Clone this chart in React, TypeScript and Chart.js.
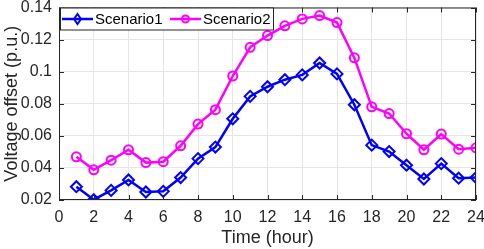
import React, { useEffect, useRef } from "react";
import { Chart, registerables } from "chart.js";
Chart.register(...registerables);

const hours = [1,2,3,4,5,6,7,8,9,10,11,12,13,14,15,16,17,18,19,20,21,22,23,24];
const scenario1 = [0.0283,0.0202,0.026,0.0325,0.025,0.0254,0.034,0.0458,0.053,0.0706,0.0846,0.0906,0.095,0.098,0.1054,0.0986,0.0794,0.0542,0.0502,0.0417,0.0331,0.0427,0.0336,0.034];
const scenario2 = [0.0469,0.0388,0.0448,0.0513,0.0433,0.0439,0.0538,0.0673,0.0763,0.0973,0.1152,0.1225,0.1286,0.1329,0.135,0.1306,0.1086,0.0781,0.0739,0.0613,0.0513,0.0611,0.0517,0.0525];
const seriesNames = ["Scenario1", "Scenario2"];
const xTitle = "Time (hour)";
const yTitle = "Voltage offset (p.u.)";

const FONT = "'Liberation Sans', Arial, sans-serif";
const AXIS = "#262626";

const boxPlugin = {
  id: "matlabBox",
  afterDraw(chart: any) {
    const { ctx, chartArea: a, scales } = chart;
    ctx.save();
    ctx.strokeStyle = AXIS;
    ctx.lineWidth = 1;
    ctx.strokeRect(a.left + 0.5, a.top + 0.5, a.right - a.left - 1, a.bottom - a.top - 1);
    const tl = 5;
    ctx.beginPath();
    scales.x.ticks.forEach((t: any) => {
      const px = Math.round(scales.x.getPixelForValue(t.value)) + 0.5;
      ctx.moveTo(px, a.bottom); ctx.lineTo(px, a.bottom - tl);
      ctx.moveTo(px, a.top); ctx.lineTo(px, a.top + tl);
    });
    scales.y.ticks.forEach((t: any) => {
      const py = Math.round(scales.y.getPixelForValue(t.value)) + 0.5;
      ctx.moveTo(a.left, py); ctx.lineTo(a.left + tl, py);
      ctx.moveTo(a.right, py); ctx.lineTo(a.right - tl, py);
    });
    ctx.stroke();

    // legend
    const lx = a.left + 1.5, ly = a.top + 0.5, lw = 213, lh = 22;
    ctx.fillStyle = "#ffffff";
    ctx.fillRect(lx, ly, lw, lh);
    ctx.strokeStyle = AXIS;
    ctx.strokeRect(lx, ly, lw, lh);
    const cy = ly + lh / 2;
    const entries = [
      { x0: a.left + 3, name: seriesNames[0], color: "#0000ff", marker: "diamond" },
      { x0: a.left + 111, name: seriesNames[1], color: "#ff00ff", marker: "circle" },
    ];
    entries.forEach((e) => {
      ctx.strokeStyle = e.color;
      ctx.lineWidth = 2.5;
      ctx.beginPath();
      ctx.moveTo(e.x0, cy); ctx.lineTo(e.x0 + 31, cy);
      ctx.stroke();
      const mx = e.x0 + 15.5;
      ctx.lineWidth = 2;
      ctx.beginPath();
      if (e.marker === "diamond") {
        ctx.moveTo(mx, cy - 5); ctx.lineTo(mx + 3.5, cy); ctx.lineTo(mx, cy + 5); ctx.lineTo(mx - 3.5, cy); ctx.closePath();
      } else {
        ctx.arc(mx, cy, 3.5, 0, Math.PI * 2);
      }
      ctx.stroke();
      ctx.fillStyle = "#000000";
      ctx.font = `15px ${FONT}`;
      ctx.textBaseline = "middle";
      ctx.textAlign = "left";
      ctx.fillText(e.name, e.x0 + 33, cy + 1);
    });
    ctx.restore();
  },
};

export default function App() {
  const ref = useRef<HTMLCanvasElement>(null);
  useEffect(() => {
    document.body.style.margin = "0";
    const chart = new Chart(ref.current!, {
      type: "line",
      data: {
        datasets: [
          {
            label: seriesNames[0],
            data: hours.map((h, i) => ({ x: h, y: scenario1[i] })),
            borderColor: "#0000ff",
            borderWidth: 2.5,
            pointStyle: "rectRot",
            pointRadius: 5.5,
            pointBorderWidth: 2,
            pointBorderColor: "#0000ff",
            pointBackgroundColor: "rgba(0,0,0,0)",
            tension: 0,
          },
          {
            label: seriesNames[1],
            data: hours.map((h, i) => ({ x: h, y: scenario2[i] })),
            borderColor: "#ff00ff",
            borderWidth: 2.5,
            pointStyle: "circle",
            pointRadius: 4.5,
            pointBorderWidth: 2,
            pointBorderColor: "#ff00ff",
            pointBackgroundColor: "rgba(0,0,0,0)",
            tension: 0,
          },
        ],
      },
      options: {
        animation: false,
        responsive: false,
        maintainAspectRatio: false,
        layout: { padding: { top: 5, right: 8, left: 0, bottom: 0 } },
        plugins: { legend: { display: false }, tooltip: { enabled: false } },
        scales: {
          x: {
            type: "linear",
            min: 0,
            max: 24,
            grid: { color: "#e6e6e6", drawTicks: false },
            border: { display: false },
            ticks: { stepSize: 2, color: AXIS, font: { family: FONT, size: 16 }, padding: 8, maxRotation: 0 },
            title: { display: true, text: xTitle, color: AXIS, font: { family: FONT, size: 18 }, padding: { top: 0, bottom: 0 } },
            afterFit: (s: any) => { s.height = 49; s.paddingLeft = 0; s.paddingRight = 0; },
          },
          y: {
            min: 0.02,
            max: 0.14,
            grid: { color: "#e6e6e6", drawTicks: false },
            border: { display: false },
            ticks: {
              stepSize: 0.02,
              color: AXIS,
              font: { family: FONT, size: 16 },
              padding: 7,
              callback: (v: any) => String(Number(Number(v).toFixed(2))),
            },
            title: { display: true, text: yTitle, color: AXIS, font: { family: FONT, size: 18 }, padding: { top: 1, bottom: 0 } },
            afterFit: (s: any) => { s.width = 59; s.paddingTop = 0; s.paddingBottom = 0; },
          },
        },
      },
      plugins: [boxPlugin],
    });
    return () => chart.destroy();
  }, []);
  return (
    <div style={{ width: 484, height: 249 }}>
      <canvas ref={ref} width={484} height={249} />
    </div>
  );
}
